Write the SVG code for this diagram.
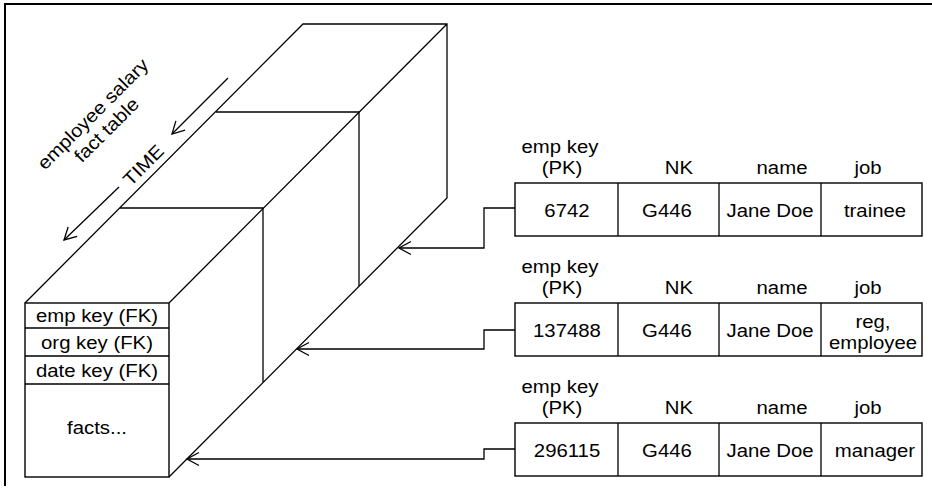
<svg xmlns="http://www.w3.org/2000/svg" width="932" height="492" viewBox="0 0 932 492">
<style>
.ln{fill:none;stroke:#000;stroke-width:1.3;stroke-linejoin:miter}
.bx{fill:#fff;stroke:#000;stroke-width:1.4}
.t{font-family:"Liberation Sans",Arial,Helvetica,sans-serif;font-size:18.5px;fill:#000;text-anchor:middle}
.cn{fill:none;stroke:#000;stroke-width:1.3;marker-end:url(#arr)}
</style>
<defs>
<marker id="arr" markerUnits="userSpaceOnUse" orient="auto" refX="0" refY="0" markerWidth="20" markerHeight="20" viewBox="-15 -10 20 20" overflow="visible">
<path d="M-12,-6.5 L0,0 L-12,6.5" fill="none" stroke="#000" stroke-width="1.3"/>
</marker>
</defs>
<rect width="932" height="492" fill="#fff"/>
<path d="M5,486 V4 H932" fill="none" stroke="#000" stroke-width="2"/>

<g id="fact-table">
<path class="ln" d="M25,303 L303,24 H447 V198 L169,477 M169,303 L447,24"/>
<path class="ln" d="M216,112 H359 V286 M120,208 H263 V382"/>
<rect class="bx" x="25" y="303" width="144" height="174"/>
<path class="ln" d="M25,328 H169 M25,356 H169 M25,384 H169"/>
<text class="t" transform="translate(97,322) scale(1.1,1)">emp key (FK)</text>
<text class="t" transform="translate(97,349) scale(1.1,1)">org key (FK)</text>
<text class="t" transform="translate(97,377) scale(1.1,1)">date key (FK)</text>
<text class="t" transform="translate(97,434) scale(1.1,1)">facts...</text>
</g>

<g id="fact-table-label">
<text class="t" transform="translate(97.4,118.4) rotate(-45) scale(1.1,1)">employee salary</text>
<text class="t" transform="translate(111,134.4) rotate(-45) scale(1.1,1)">fact table</text>
</g>

<g id="time-axis">
<path class="cn" d="M228,78 L172,134"/>
<path class="cn" d="M119,187 L64,240"/>
<text class="t" transform="translate(148,169.7) rotate(-45) scale(1.1,1)">TIME</text>
</g>

<g id="dim-row-1">
<text class="t" transform="translate(560,153) scale(1.1,1)">emp key</text>
<text class="t" transform="translate(562,174) scale(1.1,1)">(PK)</text>
<text class="t" transform="translate(679,174) scale(1.1,1)">NK</text>
<text class="t" transform="translate(782,174) scale(1.1,1)">name</text>
<text class="t" transform="translate(868,174) scale(1.1,1)">job</text>
<rect class="bx" x="515" y="183" width="407" height="53"/>
<path class="ln" d="M618,183 V236 M719,183 V236 M821,183 V236"/>
<text class="t" transform="translate(567,217) scale(1.1,1)">6742</text>
<text class="t" transform="translate(667,217) scale(1.1,1)">G446</text>
<text class="t" transform="translate(770,217) scale(1.1,1)">Jane Doe</text>
<text class="t" transform="translate(875,217) scale(1.1,1)">trainee</text>
</g>

<g id="dim-row-2">
<text class="t" transform="translate(560,273) scale(1.1,1)">emp key</text>
<text class="t" transform="translate(562,294) scale(1.1,1)">(PK)</text>
<text class="t" transform="translate(679,294) scale(1.1,1)">NK</text>
<text class="t" transform="translate(782,294) scale(1.1,1)">name</text>
<text class="t" transform="translate(868,294) scale(1.1,1)">job</text>
<rect class="bx" x="515" y="303" width="407" height="53"/>
<path class="ln" d="M618,303 V356 M719,303 V356 M821,303 V356"/>
<text class="t" transform="translate(567,337) scale(1.1,1)">137488</text>
<text class="t" transform="translate(667,337) scale(1.1,1)">G446</text>
<text class="t" transform="translate(770,337) scale(1.1,1)">Jane Doe</text>
<text class="t" transform="translate(873,327.5) scale(1.1,1)">reg,</text>
<text class="t" transform="translate(873,349) scale(1.1,1)">employee</text>
</g>

<g id="dim-row-3">
<text class="t" transform="translate(560,393) scale(1.1,1)">emp key</text>
<text class="t" transform="translate(562,414) scale(1.1,1)">(PK)</text>
<text class="t" transform="translate(679,414) scale(1.1,1)">NK</text>
<text class="t" transform="translate(782,414) scale(1.1,1)">name</text>
<text class="t" transform="translate(868,414) scale(1.1,1)">job</text>
<rect class="bx" x="515" y="423" width="407" height="53"/>
<path class="ln" d="M618,423 V476 M719,423 V476 M821,423 V476"/>
<text class="t" transform="translate(567,457) scale(1.1,1)">296115</text>
<text class="t" transform="translate(667,457) scale(1.1,1)">G446</text>
<text class="t" transform="translate(770,457) scale(1.1,1)">Jane Doe</text>
<text class="t" transform="translate(875,457) scale(1.1,1)">manager</text>
</g>

<g id="connectors">
<path class="cn" d="M515,208 H484 V248 H399"/>
<path class="cn" d="M515,330 H484 V349 H297"/>
<path class="cn" d="M515,449 H484 V459 H187"/>
</g>
</svg>
